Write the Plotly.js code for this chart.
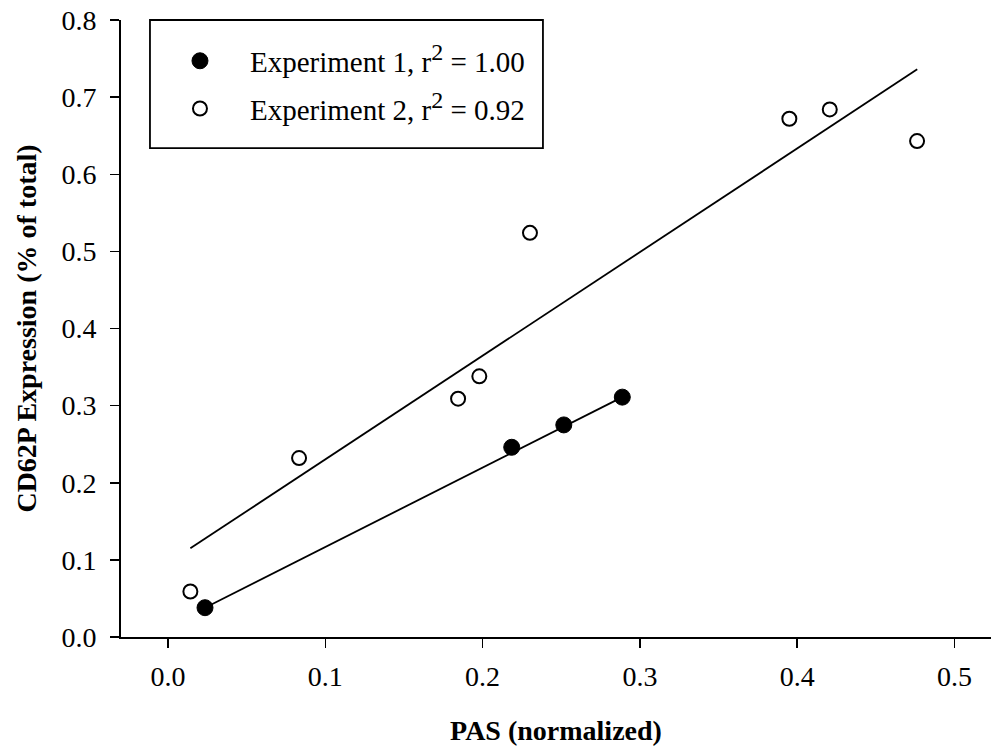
<!DOCTYPE html>
<html>
<head>
<meta charset="utf-8">
<script src="https://cdn.plot.ly/plotly-3.0.1.min.js"></script>
<style>html,body{margin:0;padding:0;background:#fff;}#chart{width:991px;height:748px;}</style>
</head>
<body>
<div id="chart"></div>
<script>
// Experiment 1 (filled circles)
const exp1X = [0.0235, 0.2185, 0.2516, 0.2888];
const exp1Y = [0.038, 0.246, 0.275, 0.311];
// Experiment 2 (open circles)
const exp2X = [0.0142, 0.0833, 0.1844, 0.1979, 0.2301, 0.3950, 0.4207, 0.4762];
const exp2Y = [0.059, 0.232, 0.309, 0.338, 0.524, 0.672, 0.684, 0.643];
// Regression lines (end points)
const fit1X = [0.0235, 0.2888];
const fit1Y = [0.038, 0.311];
const fit2X = [0.0142, 0.4763];
const fit2Y = [0.115, 0.736];
const tickVals = [0, 0.1, 0.2, 0.3, 0.4, 0.5, 0.6, 0.7, 0.8];
const seriesNames = [
  'Experiment 1, r<sup><span style="font-size:24px">2</span></sup> = 1.00',
  'Experiment 2, r<sup><span style="font-size:24px">2</span></sup> = 0.92'
];

const font = '"Liberation Serif", "Times New Roman", Times, serif';

const traces = [
  {x: fit2X, y: fit2Y, mode: 'lines', line: {color: '#000', width: 1.8}, showlegend: false, hoverinfo: 'skip'},
  {x: fit1X, y: fit1Y, mode: 'lines', line: {color: '#000', width: 1.8}, showlegend: false, hoverinfo: 'skip'},
  {x: exp1X, y: exp1Y, mode: 'markers', name: seriesNames[0], legendgroup: 'g1',
   marker: {symbol: 'circle', size: 16, color: '#000', line: {color: '#000', width: 1}}},
  {x: exp2X, y: exp2Y, mode: 'markers', name: seriesNames[1], legendgroup: 'g2',
   marker: {symbol: 'circle', size: 14, color: '#fff', line: {color: '#000', width: 2}}}
];

const layout = {
  width: 991, height: 748,
  margin: {l: 121, r: 0, t: 20, b: 111},
  paper_bgcolor: '#fff', plot_bgcolor: '#fff',
  font: {family: font, size: 28, color: '#000'},
  showlegend: true,
  legend: {
    x: 0.0333, y: 0.975, xanchor: 'left', yanchor: 'top',
    bgcolor: 'rgba(0,0,0,0)', borderwidth: 0,
    font: {family: font, size: 29, color: '#000'},
    itemwidth: 90, traceorder: 'grouped', tracegroupgap: 7
  },
  shapes: [
    {type: 'rect', xref: 'paper', yref: 'paper', x0: 0.0333, x1: 0.485, y0: 0.7925, y1: 1.0,
     line: {color: '#000', width: 1.8}, fillcolor: 'rgba(0,0,0,0)', layer: 'above'}
  ],
  xaxis: {
    range: [-0.0299, 0.5232], tickvals: tickVals.slice(0, 6), tickformat: '.1f',
    showline: true, linecolor: '#000', linewidth: 2, mirror: false,
    ticks: 'outside', ticklen: 9, tickwidth: 1.5, tickcolor: '#000',
    showgrid: false, zeroline: false, ticklabelstandoff: 4,
    tickfont: {family: font, size: 28, color: '#000'},
    title: {text: '<b>PAS (normalized)</b>', font: {family: font, size: 28, color: '#000'}, standoff: 30}
  },
  yaxis: {
    range: [0, 0.8], tickvals: tickVals, tickformat: '.1f',
    showline: true, linecolor: '#000', linewidth: 2, mirror: false,
    ticks: 'outside', ticklen: 9, tickwidth: 1.5, tickcolor: '#000',
    showgrid: false, zeroline: false, ticklabelstandoff: 8,
    tickfont: {family: font, size: 28, color: '#000'},
    title: {text: '<b>CD62P Expression (% of total)</b>', font: {family: font, size: 28, color: '#000'}, standoff: 17}
  }
};

Plotly.newPlot('chart', traces, layout, {displayModeBar: false, staticPlot: true});
</script>
</body>
</html>
